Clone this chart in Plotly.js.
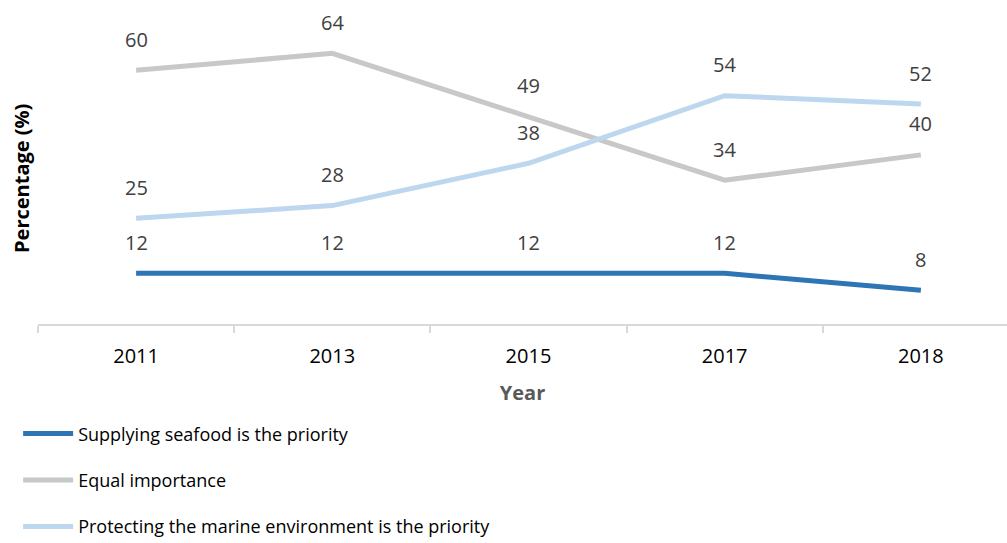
<!DOCTYPE html>
<html><head><meta charset="utf-8">
<script src="https://cdn.plot.ly/plotly-3.0.1.min.js"></script>
<style>body{margin:0;padding:0;background:#fff}#chart{width:1007px;height:543px}</style>
</head><body><div id="chart"></div>
<script>
const years = ['2011','2013','2015','2017','2018'];
const supplying = [12,12,12,12,8];
const equal = [60,64,49,34,40];
const protecting = [25,28,38,54,52];
const seriesNames = ['Supplying seafood is the priority','Equal importance','Protecting the marine environment is the priority'];
const colors = ['#2e75b6','#c8c8c8','#bdd7ee'];
const FONT = 'Open Sans, Noto Sans, sans-serif';
const series = [supplying, equal, protecting];
const traces = series.map((s,i)=>({
  x: years, y: s, type:'scatter', mode:'lines', name: seriesNames[i],
  line:{color:colors[i], width:5}, legendgroup:'g'+i, hoverinfo:'skip'
}));
const annotations = [];
series.forEach(s=>{
  s.forEach((v,j)=>{
    annotations.push({x:j, y:v, xref:'x', yref:'y', text:String(v), showarrow:false,
      yshift:31, font:{family:FONT, size:20, color:'#404040'}});
  });
});
annotations.push({xref:'paper', yref:'paper', x:-16/969, y:0.49, xanchor:'center', yanchor:'middle',
  text:'<b>Percentage (%)</b>', textangle:-90, showarrow:false, font:{family:FONT, size:20, color:'#000'}});
const layout = {
  width:1007, height:543,
  margin:{l:38, r:0, t:28, b:219, autoexpand:false},
  paper_bgcolor:'#fff', plot_bgcolor:'#fff',
  font:{family:FONT, size:18, color:'#000'},
  showlegend:true,
  legend:{xref:'container', yref:'container', x:0.018, y:0.235, xanchor:'left', yanchor:'top',
    orientation:'v', tracegroupgap:20, itemwidth:50, font:{family:FONT, size:18, color:'#000'}},
  xaxis:{type:'category', categoryarray:years, range:[-0.5,4.439], showgrid:false, showline:true, linecolor:'#d9d9d9', linewidth:2,
    ticks:'outside', tickson:'boundaries', ticklen:7, tickcolor:'#d9d9d9', tickwidth:2, tickangle:0,
    ticklabelstandoff:13,
    tickfont:{family:FONT, size:20, color:'#000'},
    title:{text:'<b>Year</b>', font:{family:FONT, size:20, color:'#595959'}, standoff:18},
    fixedrange:true},
  yaxis:{range:[0,70], showgrid:false, showline:false, showticklabels:false, zeroline:false, ticks:''},
  annotations: annotations
};
Plotly.newPlot('chart', traces, layout, {displayModeBar:false, staticPlot:true});
</script></body></html>
